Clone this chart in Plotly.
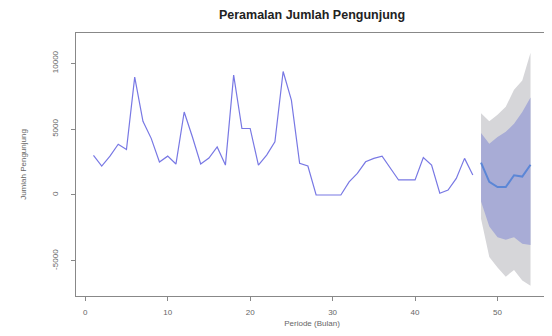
import plotly.graph_objects as go

# Historical series (Periode 1..47)
periode = list(range(1, 48))
pengunjung = [3000, 2200, 2950, 3850, 3450, 8950, 5600, 4300, 2500, 2950,
              2350, 6300, 4400, 2350, 2800, 3650, 2270, 9100, 5050, 5050,
              2270, 3030, 4040, 9380, 7200, 2400, 2200, 0, 0, 0,
              0, 1000, 1640, 2520, 2780, 2950, 2020, 1140, 1140, 1140,
              2850, 2270, 130, 380, 1260, 2780, 1510]

# Forecast (Periode 48..54)
periode_fc = list(range(48, 55))
ramalan = [2450, 1000, 600, 600, 1500, 1400, 2300]
hi80 = [4700, 3900, 4400, 4800, 5400, 6300, 7400]
lo80 = [-500, -2400, -3200, -3400, -3200, -3700, -3800]
hi95 = [6200, 5600, 6100, 6700, 8000, 8700, 10800]
lo95 = [-1800, -4700, -5500, -6200, -5700, -6500, -6900]

x_ticks = [0, 10, 20, 30, 40, 50]
y_ticks = [-5000, 0, 5000, 10000]
y_ticklabels = ["-5000", "0", "5000", "10000"]

fig = go.Figure()
fig.add_trace(go.Scatter(
    x=periode_fc + periode_fc[::-1], y=hi95 + lo95[::-1],
    fill="toself", fillcolor="#D6D6D9", line=dict(width=0),
    mode="lines", hoverinfo="skip", showlegend=False))
fig.add_trace(go.Scatter(
    x=periode_fc + periode_fc[::-1], y=hi80 + lo80[::-1],
    fill="toself", fillcolor="#A8ACD6", line=dict(width=0),
    mode="lines", hoverinfo="skip", showlegend=False))
fig.add_trace(go.Scatter(
    x=periode, y=pengunjung, mode="lines",
    line=dict(color="#7878E4", width=1.2), showlegend=False))
fig.add_trace(go.Scatter(
    x=periode_fc, y=ramalan, mode="lines",
    line=dict(color="#5B86D6", width=2), showlegend=False))

lab_font = dict(size=8, color="#666666", family="Liberation Sans")
axis_common = dict(
    showgrid=False, zeroline=False, showline=True, mirror=True,
    linecolor="#888888", linewidth=1, ticks="outside", ticklen=4,
    tickcolor="#888888", tickfont=lab_font, automargin=False,
)
fig.update_xaxes(range=[-1.12, 56.12], tickvals=x_ticks,
                 ticklabelstandoff=4,
                 title=dict(text="Periode (Bulan)", standoff=4, font=lab_font),
                 **axis_common)
fig.update_yaxes(range=[-7670, 12300], tickvals=y_ticks,
                 ticktext=y_ticklabels, tickangle=-90,
                 ticklabelstandoff=10,
                 title=dict(text="Jumlah Pengunjung", standoff=22, font=lab_font),
                 **axis_common)

# page body has an 8px margin, so the figure is sized/offset to compensate
W, H = 544, 328
L, R, T, B = 68, 4, 25, 40
fig.update_layout(
    width=W, height=H,
    margin=dict(l=L, r=R, t=T, b=B),
    paper_bgcolor="white", plot_bgcolor="white",
    title=dict(text="<b>Peramalan Jumlah Pengunjung</b>",
               x=(L + W - R) / 2 / W, xanchor="center",
               y=1 - 7 / H, yanchor="middle",
               font=dict(size=12.5, color="#222222", family="Liberation Sans")),
)

fig.write_html("out.html")
